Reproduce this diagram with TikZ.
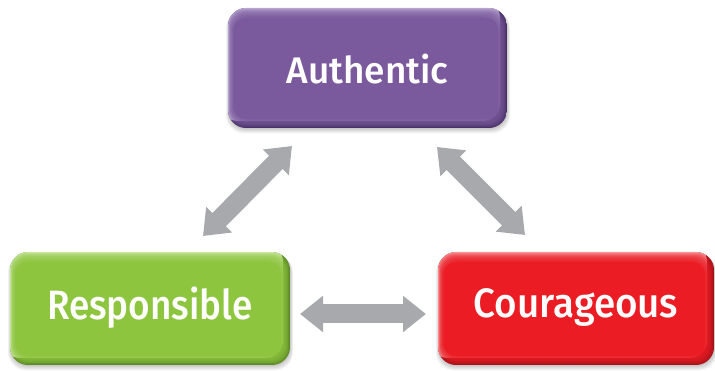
\documentclass[tikz,border=0pt]{standalone}
\usepackage{fontspec}
\setmainfont{Fira Sans}[BoldFont={Fira Sans Medium}]
\usetikzlibrary{arrows.meta}

\definecolor{purpleM}{HTML}{7A5A9D}
\definecolor{purpleL}{HTML}{BBA8D2}
\definecolor{purpleD}{HTML}{4A3168}
\definecolor{greenM}{HTML}{8DC53F}
\definecolor{greenL}{HTML}{C9E6A0}
\definecolor{greenD}{HTML}{5B8725}
\definecolor{redM}{HTML}{EC1C24}
\definecolor{redL}{HTML}{F7979A}
\definecolor{redD}{HTML}{A3121A}
\definecolor{arrowgray}{HTML}{A7A9AC}

\tikzset{
  label text/.style={text=white, font=\bfseries\fontsize{#1}{#1}\selectfont, inner sep=0pt},
  link/.style={draw=arrowgray, line width=19pt,
    {Triangle[length=23pt, width=35pt]}-{Triangle[length=23pt, width=35pt]}},
}

% bevelled button: name, x1, y1, x2, y2, colour stem, label
\newcommand\bevelbox[7]{%
  % soft drop shadow
  \foreach \k in {1,...,6}
    \fill[black, opacity=0.04, rounded corners=18pt]
      ({#2+1-\k*0.5},{#3+2}) rectangle ({#4+\k*0.5},{#5+\k*0.9});
  \begin{scope}
    \clip[rounded corners=18pt] (#2,#3) rectangle (#4,#5);
    \fill[#6D] (#2,#3) rectangle (#4,#5);
    \fill[#6L, rounded corners=18pt] ({#2-8},{#3-8}) rectangle ({#4-7},{#5-7});
    \foreach \k in {1,...,11}
      \fill[#6M, opacity=0.2, rounded corners=16pt]
        ({#2+0.5*\k},{#3+0.9*\k}) rectangle ({#4-0.8*\k},{#5-0.8*\k});
    \fill[#6M, rounded corners=12pt] ({#2+5.5},{#3+10}) rectangle ({#4-9},{#5-9});
  \end{scope}
  \coordinate (#1) at ({(#2+#4)/2},{(#3+#5)/2});
}

\begin{document}
\begin{tikzpicture}[x=1pt, y=-1pt]
  \useasboundingbox (0,0) rectangle (715,371);

  \bevelbox{boxA}{228}{8}{507}{128}{purple}{}
  \bevelbox{boxR}{10}{252}{290}{365}{green}{}
  \bevelbox{boxC}{438}{252}{714}{365}{red}{}

  \node[label text=37] (authentic) at ([yshift=-1pt]boxA) {Authentic};
  \node[label text=41] (responsible) at ([yshift=1pt]boxR) {\scalebox{0.9}[1]{Responsible}};
  \node[label text=41] (courageous) at ([yshift=1pt]boxC) {\scalebox{0.94}[1]{Courageous}};

  % arrow end points
  \coordinate (ar1) at (203,236);
  \coordinate (aa1) at (292,146);
  \coordinate (aa2) at (437,147);
  \coordinate (ac2) at (525,235);
  \coordinate (ar3) at (300,314);
  \coordinate (ac3) at (426,314);

  \draw[link] (ar1) -- (aa1);
  \draw[link] (aa2) -- (ac2);
  \draw[link] (ar3) -- (ac3);
\end{tikzpicture}
\end{document}
